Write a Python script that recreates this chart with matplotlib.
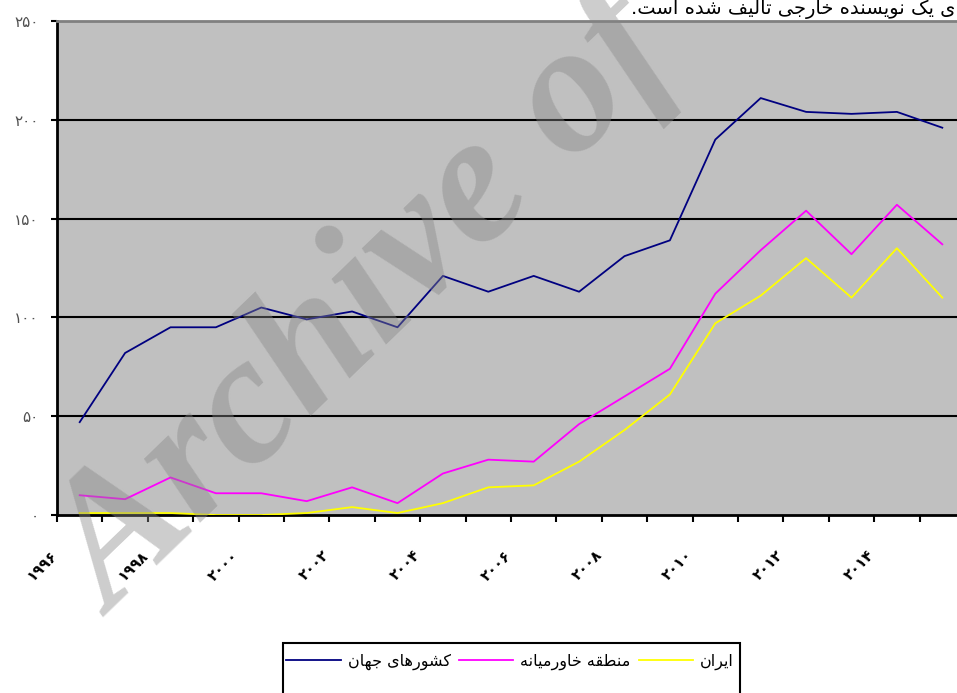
import numpy as np
import matplotlib
matplotlib.use('Agg')
import matplotlib.pyplot as plt
import matplotlib.patches as patches
from matplotlib.transforms import ScaledTranslation

years = list(range(1996, 2016))
world = [47, 82, 95, 95, 105, 99, 103, 95, 121, 113, 121, 113, 131, 139, 190, 211, 204, 203, 204, 196]
middle_east = [10, 8, 19, 11, 11, 7, 14, 6, 21, 28, 27, 46, 60, 74, 112, 134, 154, 132, 157, 137]
iran = [1, 1, 1, 0, 0, 1, 4, 1, 6, 14, 15, 27, 43, 61, 97, 111, 130, 110, 135, 110]
series_names = ['کشورهای جهان', 'منطقه خاورمیانه', 'ایران']
series_colors = ['#000080', '#FF00FF', '#FFFF00']
yticks = [0, 50, 100, 150, 200, 250]
top_note = 'ی یک نویسنده خارجی تالیف شده است.'

# arabic presentation forms: iso, fin, ini, med
FORMS = {
    '\u0627': (0xFE8D, 0xFE8E, None, None),
    '\u0628': (0xFE8F, 0xFE90, 0xFE91, 0xFE92),
    '\u062a': (0xFE95, 0xFE96, 0xFE97, 0xFE98),
    '\u062c': (0xFE9D, 0xFE9E, 0xFE9F, 0xFEA0),
    '\u062e': (0xFEA5, 0xFEA6, 0xFEA7, 0xFEA8),
    '\u062f': (0xFEA9, 0xFEAA, None, None),
    '\u0631': (0xFEAD, 0xFEAE, None, None),
    '\u0633': (0xFEB1, 0xFEB2, 0xFEB3, 0xFEB4),
    '\u0634': (0xFEB5, 0xFEB6, 0xFEB7, 0xFEB8),
    '\u0637': (0xFEC1, 0xFEC2, 0xFEC3, 0xFEC4),
    '\u0641': (0xFED1, 0xFED2, 0xFED3, 0xFED4),
    '\u0642': (0xFED5, 0xFED6, 0xFED7, 0xFED8),
    '\u0644': (0xFEDD, 0xFEDE, 0xFEDF, 0xFEE0),
    '\u0645': (0xFEE1, 0xFEE2, 0xFEE3, 0xFEE4),
    '\u0646': (0xFEE5, 0xFEE6, 0xFEE7, 0xFEE8),
    '\u0647': (0xFEE9, 0xFEEA, 0xFEEB, 0xFEEC),
    '\u0648': (0xFEED, 0xFEEE, None, None),
    '\u06cc': (0xFBFC, 0xFBFD, 0xFBFE, 0xFBFF),
    '\u06a9': (0xFB8E, 0xFB8F, 0xFB90, 0xFB91),
}

def shape(s):
    # crude joining + reversal, matplotlib has no bidi
    s = s.replace('\u064a', '\u06cc').replace('\u0643', '\u06a9')
    out = []
    for i, c in enumerate(s):
        if c not in FORMS:
            out.append(c)
            continue
        iso, fin, ini, med = FORMS[c]
        prev = s[i-1] if i > 0 else ''
        nxt = s[i+1] if i+1 < len(s) else ''
        jp = prev in FORMS and FORMS[prev][2] is not None
        jn = ini is not None and nxt in FORMS
        if jp and jn: code = med
        elif jp: code = fin
        elif jn: code = ini
        else: code = iso
        out.append(chr(code))
    return ''.join(reversed(out))

def fa(n):
    return str(n).translate(str.maketrans('0123456789', '۰۱۲۳۴۵۶۷۸۹'))

plt.rcParams['font.family'] = ['DejaVu Sans']

W, H = 957, 693
fig = plt.figure(figsize=(W/100, H/100), dpi=100)
ax = fig.add_axes([57/W, 1-515/H, (965-57)/W, (515-21)/H])
ax.set_facecolor('#C0C0C0')

x = np.arange(len(years))
for vals, name, col in zip([world, middle_east, iran], series_names, series_colors):
    ax.plot(x, vals, color=col, lw=1.3, label=shape(name), zorder=3)

ax.set_xlim(-0.5, len(years)-0.5)
ax.set_ylim(0, 250)
ax.set_yticks(yticks)
ax.set_yticklabels([fa(v) for v in yticks], fontsize=11, color='#505050')
for v in yticks[1:-1]:
    ax.axhline(v, color='black', lw=1.5, zorder=1)

# boundary ticks (major), labels on category centres (minor)
ax.set_xticks(np.arange(len(years)+1) - 0.5)
ax.set_xticklabels([])
ax.set_xticks(x[::2], minor=True)
ax.set_xticklabels([fa(y) for y in years[::2]], minor=True, fontsize=10.5, fontweight='bold')
ax.tick_params(axis='x', which='major', direction='out', length=5, width=1.5)
ax.tick_params(axis='x', which='minor', length=0, pad=0)
ax.tick_params(axis='y', direction='out', length=4.3, width=1.5, pad=9)
off = ScaledTranslation(-0.25, -0.38, fig.dpi_scale_trans)
for lab in ax.get_xticklabels(minor=True):
    lab.set_rotation(45)
    lab.set_ha('right')
    lab.set_va('center')
    lab.set_rotation_mode('anchor')
    lab.set_transform(lab.get_transform() + off)

ax.spines['left'].set_linewidth(2)
ax.spines['bottom'].set_linewidth(2)
ax.spines['top'].set_color('#808080')
ax.spines['top'].set_linewidth(2)
ax.spines['right'].set_visible(False)

# legend
fig.legend(loc='center', bbox_to_anchor=(510/W, 1-662/H), ncol=3, frameon=False,
           fontsize=11.5, handlelength=3.4, handletextpad=0.45, columnspacing=0.5)
fig.patches.append(patches.Rectangle((283/W, 1-710/H), (740-283)/W, (710-643)/H,
                                     transform=fig.transFigure, fill=False,
                                     ec='black', lw=1.5))

# text cut at the top of the page
fig.text(955/W, 1-14/H, shape(top_note), ha='right', va='baseline', fontsize=14)

# watermark
fig.text(112/W, 1-617/H, 'Archive of', family='Liberation Serif', style='italic',
         weight='bold', fontsize=133, rotation=44, rotation_mode='anchor',
         ha='left', va='baseline', color='#878787', alpha=0.42, zorder=10)

fig.savefig('out.png', dpi=100)
